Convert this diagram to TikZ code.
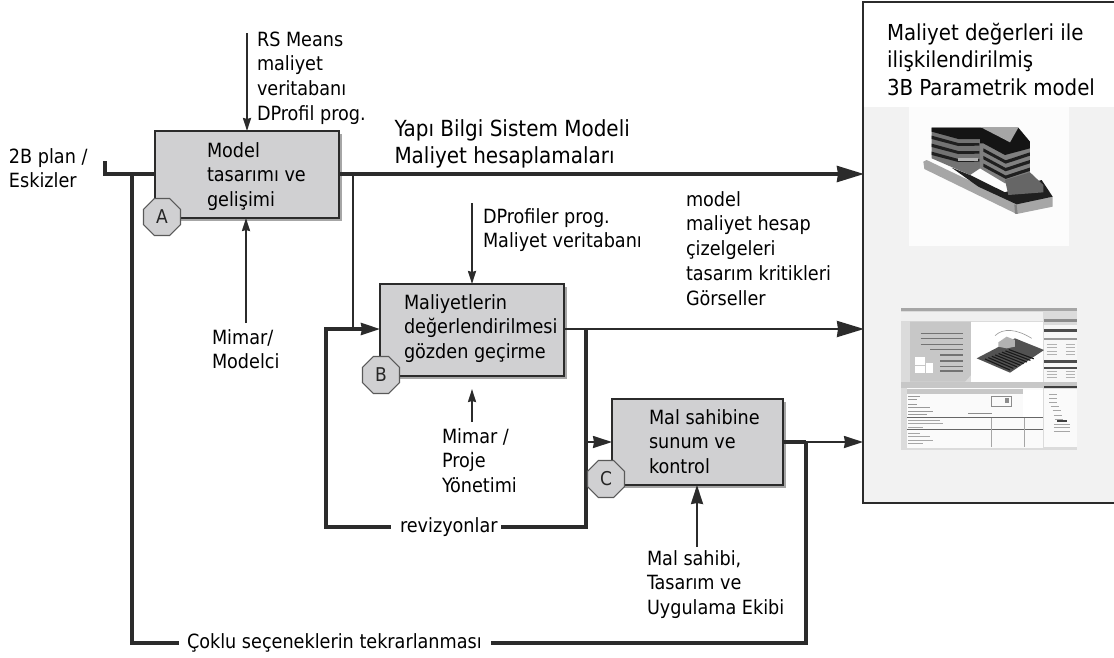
\documentclass[tikz,border=0pt]{standalone}
\usepackage{fontspec}
\setmainfont{DejaVu Sans Condensed}
\usetikzlibrary{arrows.meta,shapes.geometric,shadows}
\definecolor{ink}{HTML}{2B2B2B}
\definecolor{boxfill}{HTML}{D0D0D2}
\definecolor{panel}{HTML}{F2F2F2}
\newcommand{\fs}{\rule{0pt}{20pt}}
\tikzset{
  x=1pt,y=-1pt,
  lbl/.style={anchor=north west,inner sep=0pt,outer sep=0pt,align=left,text=black,
    font=\fontsize{19.6}{24.8}\selectfont},
  biglbl/.style={lbl,font=\fontsize{22}{27.5}\selectfont},
  procbox/.style={draw=ink,line width=2pt,fill=boxfill,inner sep=0pt,outer sep=0pt,
    drop shadow={shadow xshift=2.5pt,shadow yshift=-2.5pt,fill=black!35,opacity=1}},
  octa/.style={regular polygon,regular polygon sides=8,draw=black!65,line width=1.2pt,fill=boxfill,
    minimum size=40pt,inner sep=0pt,outer sep=0pt,text=black!85,font=\fontsize{19}{20}\selectfont},
  thinline/.style={draw=ink,line width=2pt},
  midline/.style={draw=ink,line width=3.2pt},
  thickline/.style={draw=ink,line width=4.5pt},
  smallhead/.style={-{Stealth[length=13pt,width=8pt,inset=1pt]}},
  midhead/.style={-{Stealth[length=19pt,width=12pt,inset=1pt]}},
  bighead/.style={-{Stealth[length=27pt,width=16pt,inset=1pt]}},
}
\begin{document}
\begin{tikzpicture}
\useasboundingbox (0,0) rectangle (1114,657);
% output panel
\node[draw=ink,line width=1.6pt,fill=white,anchor=north west,inner sep=0pt,outer sep=0pt,
  minimum width=252pt,minimum height=501pt] (out) at (863,2) {};
\fill[panel] (864,107) rectangle (1113.5,502);
\fill[white!99!black] (909,107) rectangle (1069,246);
\draw[draw=ink,line width=1.6pt] (1114,2) -- (863,2) -- (863,503) -- (1114,503);
\node[biglbl] (outtitle) at (887,20) {\fs Maliyet değerleri ile\\ilişkilendirilmiş\\3B Parametrik model};
% building
\begin{scope}[shift={(915,115)},x=0.3333pt,y=-0.3333pt]
  \fill[black!35] (25,140) -- (35,135) -- (300,262) -- (413,245) -- (413,275) -- (305,297) -- (28,162) -- cycle;
  \fill[black!50] (305,270) -- (308,297) -- (300,296) -- (298,268) -- cycle;
  \fill[black!88] (110,158) -- (165,180) -- (270,232) -- (345,205) -- (380,195) -- (413,245) -- (305,268) -- (190,215) -- cycle;
  \fill[black!55] (50,38) -- (195,38) -- (195,160) -- (165,180) -- (50,130) -- cycle;
  \fill[black!50] (195,38) -- (345,80) -- (345,190) -- (270,205) -- (195,160) -- cycle;
  \fill[black!92] (50,38) -- (195,38) -- (195,72) -- (130,72) -- (50,50) -- cycle;
  \fill[black!92] (195,38) -- (310,38) -- (345,80) -- (345,100) -- (270,120) -- (205,85) -- (195,85) -- cycle;
  \fill[black!35] (200,38) -- (310,38) -- (285,82) -- (262,70) -- cycle;
  \foreach \d in {0,24,48}{
    \fill[black!88] (50,{62+\d}) -- (130,{84+\d}) -- (193,{84+\d}) -- (193,{92+\d}) -- (130,{93+\d}) -- (50,{72+\d}) -- cycle;
    \fill[black!88] (205,{100+\d*.95}) -- (272,{136+\d*.95}) -- (345,{112+\d*.95}) -- (345,{122+\d*.95}) -- (272,{146+\d*.95}) -- (205,{110+\d*.95}) -- cycle;
  }
  \fill[black!60] (270,195) -- (345,172) -- (385,210) -- (385,232) -- (280,240) -- cycle;
  \fill[black!30] (130,130) rectangle (190,138);
\end{scope}
% screenshot
\begin{scope}[shift={(900,305)},x=0.3333pt,y=-0.3333pt]
  \fill[black!14] (3,10) rectangle (530,435);
  \fill[black!35] (3,10) rectangle (530,17);
  \fill[black!6] (3,22) rectangle (430,48);
  \fill[black!22] (30,50) -- (213,50) -- (213,210) -- (195,230) -- (30,230) -- cycle;
  \fill[white] (213,50) rectangle (430,230);
  \foreach \yy/\xx in {85/62,100/62,118/62,133/90,150/120,168/120,185/120,198/120}
    \draw[black!55,line width=1.6pt] (\xx,\yy) -- (190,\yy);
  \fill[white] (45,155) rectangle (75,180);
  \fill[white] (78,175) rectangle (100,205);
  \fill[white] (45,182) rectangle (75,205);
  \fill[black!68] (230,160) -- (345,100) -- (432,135) -- (330,203) -- cycle;
  \foreach \t in {0,.12,...,.9}
    \draw[black!90,line width=1.1pt] ({255+85*\t},{162-34*\t}) -- ({330+85*\t},{195-40*\t});
  \fill[black!30] (295,112) -- (320,95) -- (345,105) -- (345,125) -- (320,130) -- (295,125) -- cycle;
  \draw[black!40,line width=.6pt] (285,92) .. controls (310,68) and (350,72) .. (395,100);
  \fill[black!3] (433,60) rectangle (530,230);
  \foreach \yy in {73,165,185}
    \fill[black!70] (433,\yy) rectangle (530,{\yy+8});
  \fill[black!45] (433,42) rectangle (530,50);
  \fill[black!40] (433,100) rectangle (530,106);
  \foreach \yy in {118,128,138,148,198,208,218}{
    \draw[black!30,line width=.8pt] (440,\yy) -- (470,\yy);
    \draw[black!30,line width=.8pt] (498,\yy) -- (525,\yy);
  }
  \fill[black!22] (3,232) rectangle (530,250);
  \fill[black!2] (20,250) rectangle (430,430);
  \fill[black!22] (20,252) rectangle (370,268);
  \fill[white] (370,255) rectangle (430,335);
  \foreach \yy/\xe in {275/60,283/50,297/50,308/90,318/100,327/80}
    \draw[black!40,line width=.8pt] (25,\yy) -- (\xe,\yy);
  \draw[black!45,line width=.8pt] (275,275) rectangle (335,305);
  \draw[black!45,line width=.8pt] (205,326) -- (275,326);
  \fill[black!45] (316,278) rectangle (328,295);
  \fill[black!60] (20,335) rectangle (430,339);
  \fill[black!60] (20,372) rectangle (430,375);
  \foreach \yy/\xe in {345/120,355/130,366/70,385/60,395/90,405/100,415/70}
    \draw[black!35,line width=.8pt] (25,\yy) -- (\xe,\yy);
  \draw[black!35,line width=.8pt] (275,339) -- (275,425);
  \draw[black!35,line width=.8pt] (372,339) -- (372,425);
  \fill[black!75] (433,242) rectangle (530,250);
  \fill[black!2] (433,252) rectangle (530,425);
  \foreach \yy/\xs in {268/448,280/448,292/448,304/452,316/458,330/462,342/465}
    \draw[black!35,line width=.8pt] (\xs,\yy) -- ({\xs+24},\yy);
  \fill[black!75] (470,345) rectangle (500,350);
  \foreach \yy in {358,368,378}
    \draw[black!35,line width=.8pt] (462,\yy) -- (510,\yy);
\end{scope}
% process boxes
\node[procbox,minimum width=184pt,minimum height=87pt] (a) at (247,174.5) {};
\node[procbox,minimum width=184pt,minimum height=92pt] (b) at (472,330) {};
\node[procbox,minimum width=171pt,minimum height=86pt] (c) at (697.5,442) {};
\node[lbl] (atext) at (207,137) {\fs Model\\tasarımı ve\\gelişimi};
\node[lbl] (btext) at (404,289) {\fs Maliyetlerin\\değerlendirilmesi\\gözden geçirme};
\node[lbl] (ctext) at (649,404) {\fs Mal sahibine\\sunum ve\\kontrol};
% free ends
\coordinate (tick) at (105,161);
\coordinate (corner) at (105,174);
\coordinate (inleft) at (132,174);
\coordinate (branch) at (353,174);
\coordinate (binjoin) at (353,329);
\coordinate (bout) at (586,329);
\coordinate (cin) at (586,442);
\coordinate (cout) at (806,442);
\coordinate (o1) at (864,174);
\coordinate (o2) at (864,329);
\coordinate (o3) at (863,442);
\coordinate (revR) at (586,527);
\coordinate (revL) at (326,527);
\coordinate (revT) at (326,329);
\coordinate (itR) at (806,643);
\coordinate (itL) at (132,643);
\coordinate (itLend) at (179,643);
\coordinate (itRend) at (491,643);
\coordinate (revLend) at (389,527);
\coordinate (revRend) at (501,527);
% labels with connector breaks
\node[lbl] (rev) at (400,512) {\fs revizyonlar};
\node[lbl] (iter) at (187,628) {\fs Çoklu seçeneklerin tekrarlanması};
% connectors
\draw[midline] (tick) -- (corner) -- (a.west |- corner);
\draw[midline] (inleft) -- (itL) -- (itLend);
\draw[midline,bighead] (a.east |- o1) -- (o1);
\draw[thinline] (branch) -- (binjoin);
\draw[thickline,line cap=rect] (revT) -- (revL) -- (revLend);
\draw[midline,midhead] (revT) -- (b.west |- revT);
\draw[draw=ink,line width=2.5pt,bighead] (b.east |- o2) -- (o2);
\draw[thickline] (bout) -- (revR) -- (revRend);
\draw[thinline,midhead] (cin) -- (c.west |- cin);
\draw[thickline] (c.east |- cout) -- (cout);
\draw[thinline,midhead] (cout) -- (o3);
\draw[thickline,line width=3.6pt] (cout) -- (itR) -- (itRend);
% input arrows
\coordinate (s1) at (247,33);
\coordinate (s2) at (246,323);
\coordinate (s3) at (472,203);
\coordinate (s4) at (472,422);
\coordinate (s4t) at (472,389);
\coordinate (s5) at (697,547);
\draw[thinline,smallhead] (s1) -- (a.north -| s1);
\draw[thinline,smallhead] (s2) -- (a.south -| s2);
\draw[thinline,smallhead] (s3) -- (b.north -| s3);
\draw[thinline,smallhead] (s4) -- (s4t);
\draw[thinline,midhead] (s5) -- (c.south -| s5);
% octagons
\node[octa] (octA) at (162,217) {A};
\node[octa] (octB) at (381,375) {B};
\node[octa] (octC) at (606,479) {C};
% other labels
\node[lbl] (rs) at (257,26) {\fs RS Means\\maliyet\\veritabanı\\DProfil prog.};
\node[lbl] (plan) at (9,143) {\fs 2B plan /\\Eskizler};
\node[lbl,font=\fontsize{22.2}{27}\selectfont] (yapi) at (394.5,116) {\fs Yapı Bilgi Sistem Modeli\\Maliyet hesaplamaları};
\node[lbl] (dpro) at (483,203) {\fs DProfiler prog.\\Maliyet veritabanı};
\node[lbl] (mod) at (686,186) {\fs model\\maliyet hesap\\çizelgeleri\\tasarım kritikleri\\Görseller};
\node[lbl] (mm) at (212,324) {\fs Mimar/\\Modelci};
\node[lbl] (mp) at (442,423) {\fs Mimar /\\Proje\\Yönetimi};
\node[lbl] (ms) at (647,545) {\fs Mal sahibi,\\Tasarım ve\\Uygulama Ekibi};
\end{tikzpicture}
\end{document}
